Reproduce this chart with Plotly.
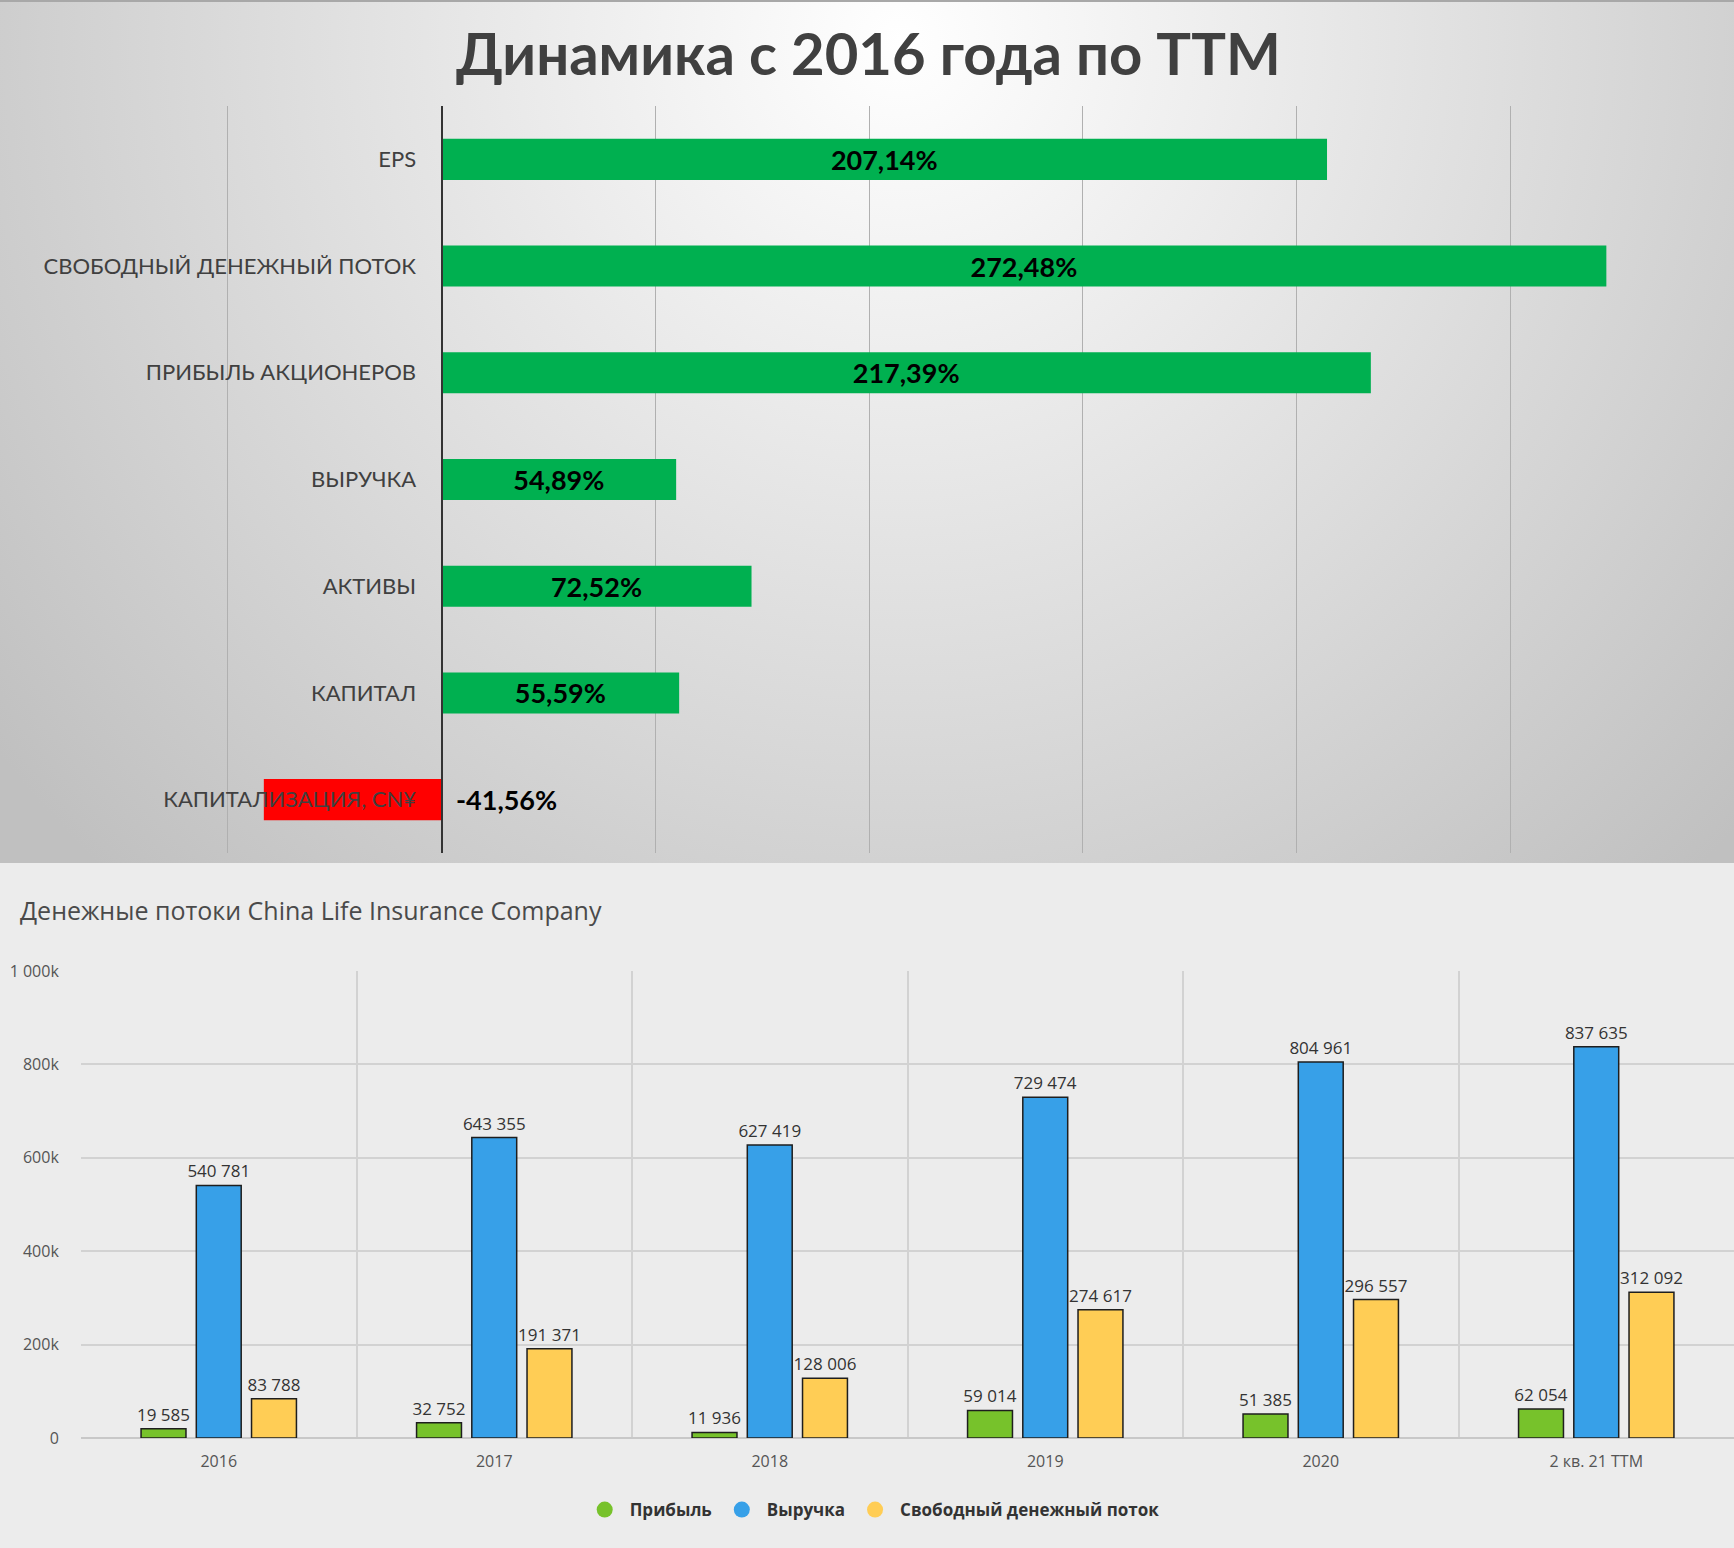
import base64
import plotly.graph_objects as go

# ---------------- data ----------------
top_title = "Динамика с 2016 года по TTM"
top_categories = ["EPS", "СВОБОДНЫЙ ДЕНЕЖНЫЙ ПОТОК", "ПРИБЫЛЬ АКЦИОНЕРОВ",
                  "ВЫРУЧКА", "АКТИВЫ", "КАПИТАЛ", "КАПИТАЛИЗАЦИЯ, CN¥"]
top_values = [207.14, 272.48, 217.39, 54.89, 72.52, 55.59, -41.56]

bottom_title = "Денежные потоки China Life Insurance Company"
years = ["2016", "2017", "2018", "2019", "2020", "2 кв. 21 TTM"]
profit = [19585, 32752, 11936, 59014, 51385, 62054]
revenue = [540781, 643355, 627419, 729474, 804961, 837635]
fcf = [83788, 191371, 128006, 274617, 296557, 312092]
series_names = ["Прибыль", "Выручка", "Свободный денежный поток"]
y2_tick_vals = [0, 200000, 400000, 600000, 800000, 1000000]
y2_tick_text = ["0", "200k", "400k", "600k", "800k", "1 000k"]

# ---------------- geometry ----------------
W, H = 1734, 1548
TOP_PANEL_H = 863

def py(pix):
    return 1 - pix / H

top_x_dom = [14 / W, 1724 / W]
top_y_dom = [py(853), py(106)]
x_range = [-100, 300]
zero_pos = top_x_dom[0] + (0 - x_range[0]) / (x_range[1] - x_range[0]) * (top_x_dom[1] - top_x_dom[0])

bot_x_dom = [81 / W, 1.0]
bot_y_dom = [py(1438), py(971)]

green_top = "#00b050"
red_top = "#ff0000"
c_profit = "#77c22b"
c_revenue = "#37a0e8"
c_fcf = "#ffcd55"

fig = go.Figure()

# ---- top chart ----
pos_text = [f"{v:.2f}".replace(".", ",") + "%" if v >= 0 else "" for v in top_values]
fig.add_trace(go.Bar(
    x=top_values, y=top_categories, orientation="h",
    marker=dict(color=[green_top if v >= 0 else red_top for v in top_values], line=dict(width=0)),
    width=0.385, offset=-0.1925,
    text=pos_text, textposition="inside", insidetextanchor="middle",
    insidetextfont=dict(family="Lato, Open Sans, sans-serif", size=27, color="#000000", weight="bold"),
    textangle=0, constraintext="none",
    xaxis="x", yaxis="y", showlegend=False, hoverinfo="skip",
))

for cat, v in zip(top_categories, top_values):
    if v < 0:
        fig.add_annotation(
            x=0, y=cat, xref="x", yref="y", xanchor="left", yanchor="middle",
            xshift=12, showarrow=False,
            text=f"{v:.2f}".replace(".", ",") + "%",
            font=dict(family="Lato, Open Sans, sans-serif", size=27, color="#000000", weight="bold"),
        )

# ---- bottom chart ----
slot = 0.2005
bw = 0.163
for vals, col, off in [(profit, c_profit, -slot), (revenue, c_revenue, 0.0), (fcf, c_fcf, slot)]:
    fig.add_trace(go.Bar(
        x=years, y=vals, xaxis="x2", yaxis="y2",
        marker=dict(color=col, line=dict(color="#1e1e1e", width=1.5)),
        width=bw, offset=off - bw / 2,
        texttemplate="%{y:,}", textposition="outside", constraintext="none",
        outsidetextfont=dict(family="Open Sans, sans-serif", size=17, color="#333333"),
        cliponaxis=False, showlegend=False, hoverinfo="skip",
    ))

for name, col in zip(series_names, [c_profit, c_revenue, c_fcf]):
    fig.add_trace(go.Scatter(
        x=[None], y=[None], xaxis="x2", yaxis="y2", mode="markers", name=name,
        marker=dict(symbol="circle", size=18, color=col),
    ))

# ---- background gradient for top panel ----
svg = (f'<svg xmlns="http://www.w3.org/2000/svg" width="{W}" height="{TOP_PANEL_H}">'
       '<defs><radialGradient id="g" gradientUnits="userSpaceOnUse" cx="900" cy="40" r="1150">'
       '<stop offset="0" stop-color="#ffffff"/><stop offset="1" stop-color="#c0c0c0"/>'
       '</radialGradient></defs>'
       f'<rect width="{W}" height="{TOP_PANEL_H}" fill="url(#g)"/>'
       f'<rect width="{W}" height="2" fill="#a8a8a8"/></svg>')
svg_uri = "data:image/svg+xml;base64," + base64.b64encode(svg.encode("utf-8")).decode("ascii")

fig.update_layout(
    width=W, height=H, margin=dict(l=0, r=0, t=0, b=0, pad=0, autoexpand=False),
    paper_bgcolor="#ececec", plot_bgcolor="rgba(0,0,0,0)",
    separators=", ", barmode="group",
    font=dict(family="Open Sans, sans-serif", color="#333333"),
    images=[dict(source=svg_uri, xref="paper", yref="paper", x=0, y=1,
                 sizex=1, sizey=TOP_PANEL_H / H, xanchor="left", yanchor="top",
                 sizing="stretch", layer="below")],
    xaxis=dict(domain=top_x_dom, range=x_range, dtick=50, tick0=0,
               showgrid=True, gridcolor="#b0b0b0", gridwidth=1,
               zeroline=False, showline=False, showticklabels=False, anchor="y",
               fixedrange=True, automargin=False),
    yaxis=dict(domain=top_y_dom, type="category", autorange="reversed",
               anchor="free", position=zero_pos, showgrid=False,
               showline=True, linecolor="#333333", linewidth=2,
               ticks="outside", ticklen=20, tickcolor="rgba(0,0,0,0)",
               tickfont=dict(family="Lato, Open Sans, sans-serif", size=22, color="#404040"),
               fixedrange=True, automargin=False),
    xaxis2=dict(domain=bot_x_dom, type="category", anchor="y2",
                tickson="boundaries", showgrid=True, gridcolor="#d2d2d2", gridwidth=2,
                showline=False, ticks="", ticklabelstandoff=12,
                tickfont=dict(size=16, color="#555555"), automargin=False),
    yaxis2=dict(domain=bot_y_dom, range=[0, 1000000], anchor="x2",
                tickvals=y2_tick_vals, ticktext=y2_tick_text,
                showgrid=True, gridcolor="#d2d2d2", gridwidth=2,
                zeroline=True, zerolinecolor="#c8c8c8", zerolinewidth=2,
                ticks="outside", ticklen=18, tickcolor="rgba(0,0,0,0)",
                tickfont=dict(size=16, color="#555555"), automargin=False),
    legend=dict(orientation="h", x=0.503, xanchor="center", y=py(1510), yanchor="middle",
                font=dict(size=17, color="#333333", weight="bold"),
                itemwidth=40,
                bgcolor="rgba(0,0,0,0)", itemclick=False, itemdoubleclick=False),
    annotations=list(fig.layout.annotations) + [
        dict(text=top_title, xref="paper", yref="paper", x=868 / W, y=py(52),
             xanchor="center", yanchor="middle", showarrow=False,
             font=dict(family="Lato, Open Sans, sans-serif", size=58, color="#404040", weight="bold")),
        dict(text=bottom_title, xref="paper", yref="paper", x=18 / W, y=py(910),
             xanchor="left", yanchor="middle", showarrow=False,
             font=dict(family="Open Sans, sans-serif", size=25, color="#4a4a4a")),
    ],
)

fig.write_html("out.html", config={"displayModeBar": False},
               post_script="document.body.style.margin='0';document.body.style.overflow='hidden';")
